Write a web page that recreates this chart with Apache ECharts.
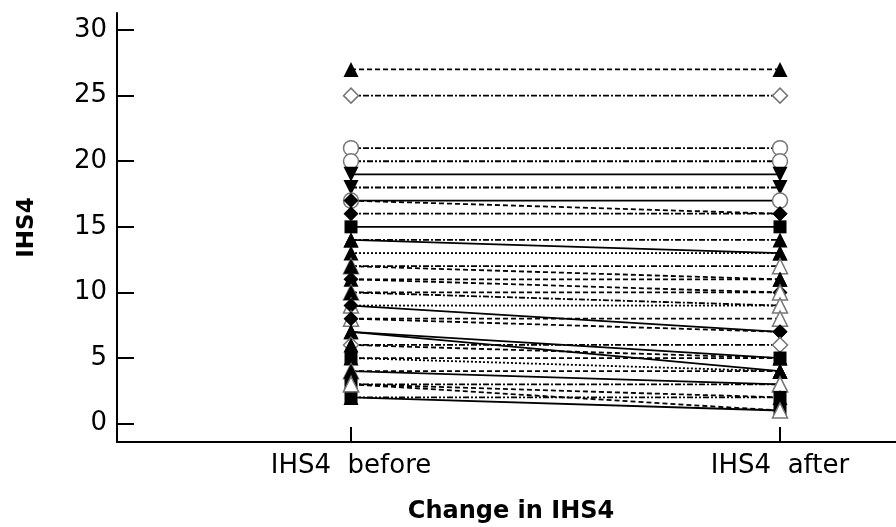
<!DOCTYPE html>
<html>
<head>
<meta charset="utf-8">
<script src="https://cdn.jsdelivr.net/npm/echarts@6/dist/echarts.min.js"></script>
<style>
  html, body { margin: 0; padding: 0; background: #fff; }
  #main { width: 896px; height: 527px; }
</style>
</head>
<body>
<div id="main"></div>
<script>
// 类别与刻度
const categories = ['IHS4  before', 'IHS4  after'];
const yTicks = [0, 5, 10, 15, 20, 25, 30];

// 每个受试者的前后数值
const before = [27, 25, 21, 20, 19, 18, 17, 17, 16, 15, 14, 14, 13, 12, 12, 11, 11, 10, 10, 9, 9, 8, 8, 7, 7, 6, 6, 5, 5, 4, 4, 3, 3, 2, 2, 3];
const after  = [27, 25, 21, 20, 19, 18, 17, 16, 16, 15, 14, 13, 13, 12, 11, 11, 10, 10, 9, 9, 7, 8, 7, 5, 4, 6, 5, 5, 4, 3, 4, 3, 2, 2, 1, 1];

// 标记和线型（样式）
const markers = ['tri', 'odia', 'ocir', 'ocir', 'dtri', 'dtri', 'ocir', 'dia', 'dia', 'sq', 'tri', 'tri', 'tri', 'otri', 'tri', 'tri', 'dia', 'otri', 'tri', 'otri', 'dia', 'otri', 'dia', 'tri', 'tri', 'odia', 'tri', 'sq', 'tri', 'otri', 'tri', 'otri', 'sq', 'tri', 'sq', 'otri'];
const dashes = ['dash', 'dashdot', 'dashdot', 'dashdotdot', 'solid', 'dashdot', 'solid', 'dash', 'dashdot', 'solid', 'dashdot', 'solid', 'dot', 'dashdot', 'dash', 'dash', 'dash', 'dash', 'dashdot', 'dot', 'solid', 'dash', 'dash', 'solid', 'solid', 'dashdot', 'dash', 'dash', 'dot', 'solid', 'dash', 'dashdot', 'dash', 'dashdotdot', 'solid', 'dash'];

const dashMap = {
    solid: 'solid',
    dash: [5, 3],
    dot: [2, 2],
    dashdot: [6, 2, 2, 2],
    dashdotdot: [6, 2, 2, 2, 2, 2]
};
const markerMap = {
    tri:  { symbol: 'triangle', rotate: 0, open: false },
    otri: { symbol: 'triangle', rotate: 0, open: true },
    dtri: { symbol: 'triangle', rotate: 180, open: false },
    dia:  { symbol: 'diamond', rotate: 0, open: false },
    odia: { symbol: 'diamond', rotate: 0, open: true },
    ocir: { symbol: 'circle', rotate: 0, open: true },
    sq:   { symbol: 'rect', rotate: 0, open: false }
};

var chartDom = document.getElementById('main');
var myChart = echarts.init(chartDom);

var series = before.map(function (b, i) {
    var m = markerMap[markers[i]];
    return {
        type: 'line',
        data: [[0, b], [1, after[i]]],
        symbol: m.symbol,
        symbolRotate: m.rotate,
        symbolSize: m.symbol === 'rect' ? 13 : 15,
        itemStyle: {
            color: m.open ? '#ffffff' : '#000000',
            borderColor: m.open ? '#777777' : '#000000',
            borderWidth: m.open ? 1.5 : 0
        },
        lineStyle: { color: '#000000', width: 1.8, type: dashMap[dashes[i]] },
        emphasis: { disabled: true },
        z: 2
    };
});

var option = {
    animation: false,
    backgroundColor: '#ffffff',
    title: {
        text: 'Change in IHS4',
        left: 506,
        top: 495,
        textAlign: 'center',
        textStyle: { fontFamily: 'DejaVu Sans', fontWeight: 'bold', fontSize: 24, color: '#000' }
    },
    grid: { left: 117, right: 0, top: 13, bottom: 85 },
    xAxis: {
        type: 'value',
        min: -0.5455,
        max: 1.2704,
        splitLine: { show: false },
        axisLine: { onZero: false, lineStyle: { color: '#000', width: 2 } },
        axisTick: { customValues: [0, 1], inside: true, length: 15, lineStyle: { color: '#000', width: 2 } },
        axisLabel: {
            customValues: [0, 1],
            formatter: function (v) { return categories[Math.round(v)]; },
            margin: 11,
            fontFamily: 'DejaVu Sans',
            fontSize: 26,
            color: '#000'
        }
    },
    yAxis: {
        type: 'value',
        min: -1.4,
        max: 31.3,
        name: 'IHS4',
        nameLocation: 'middle',
        nameGap: 78,
        nameTextStyle: { fontFamily: 'DejaVu Sans', fontWeight: 'bold', fontSize: 23, color: '#000' },
        splitLine: { show: false },
        axisLine: { onZero: false, lineStyle: { color: '#000', width: 2 } },
        axisTick: { customValues: yTicks, inside: true, length: 17, lineStyle: { color: '#000', width: 2 } },
        axisLabel: {
            customValues: yTicks,
            margin: 10,
            fontFamily: 'DejaVu Sans',
            fontSize: 26,
            color: '#000'
        }
    },
    series: series
};
option && myChart.setOption(option);
</script>
</body>
</html>
